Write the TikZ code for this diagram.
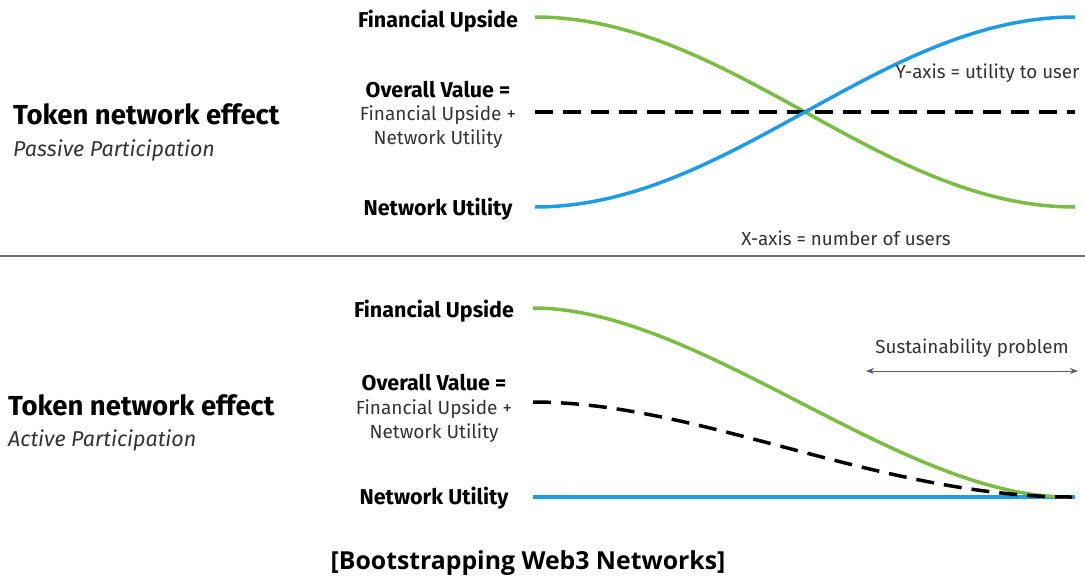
\documentclass[tikz,border=0pt]{standalone}
\usepackage{fontspec}
\setmainfont{Fira Sans}
\newfontfamily\capfont{Open Sans}
\usetikzlibrary{arrows.meta}
\definecolor{finGreen}{RGB}{122,189,66}
\definecolor{netBlue}{RGB}{29,155,230}
\definecolor{arrowGray}{RGB}{80,92,112}
\definecolor{lineGray}{RGB}{110,110,110}

\begin{document}
\begin{tikzpicture}[x=1pt,y=-1pt,
    curve/.style={line width=3.5pt},
    valline/.style={line width=3.5pt,dash pattern=on 18pt off 10pt},
    bigtitle/.style={anchor=west,inner sep=0pt,font=\bfseries\fontsize{27.5}{32}\selectfont},
    subtitle/.style={anchor=west,inner sep=0pt,text=black!80,font=\itshape\fontsize{21.5}{25}\selectfont},
    lbl/.style={font=\bfseries\fontsize{21.5}{25}\selectfont},
    sumlbl/.style={align=center,text=black!80,font=\fontsize{19}{24}\selectfont},
    note/.style={text=black!80,font=\fontsize{18.8}{22}\selectfont}]
    \useasboundingbox (0,0) rectangle (1085,579);

    % passive participation
    \node[bigtitle] (tn1) at (13,114) {Token network effect};
    \node[subtitle] (pp1) at (13,150) {Passive Participation};
    \node[lbl] (fu1) at (438,21) {Financial Upside};
    \node[lbl] (ov1) at (438,90) {Overall Value =};
    \node[sumlbl] (ov1s) at (438,127) {Financial Upside +\\Network Utility};
    \node[lbl] (nu1) at (438,209) {Network Utility};

    \coordinate (g1s) at (535,17);
    \coordinate (g1e) at (1075,207);
    \coordinate (b1s) at (535,207);
    \coordinate (b1e) at (1075,17);
    \coordinate (d1s) at (535,112);
    \coordinate (d1e) at (1075,112);
    \draw[curve,finGreen] (g1s) .. controls (730,17) and (880,207) .. (g1e);
    \draw[valline] (d1s) -- (d1e);
    \draw[curve,netBlue] (b1s) .. controls (730,207) and (880,17) .. (b1e);

    \node[note,anchor=east] (ya) at (1083,73) {Y-axis = utility to user};
    \node[note] (xa) at (846,238) {X-axis = number of users};

    \draw[lineGray,line width=1.2pt] (0,256) -- (1085,256);

    % active participation
    \node[bigtitle] (tn2) at (8,405) {Token network effect};
    \node[subtitle] (ap2) at (8,440) {Active Participation};
    \node[lbl] (fu2) at (434,311) {Financial Upside};
    \node[lbl] (ov2) at (434,383) {Overall Value =};
    \node[sumlbl] (ov2s) at (434,421) {Financial Upside +\\Network Utility};
    \node[lbl] (nu2) at (434,498) {Network Utility};

    \coordinate (g2s) at (533,308);
    \coordinate (g2e) at (1068,497);
    \coordinate (b2s) at (533,497);
    \coordinate (b2e) at (1075,497);
    \coordinate (d2s) at (533,402);
    \coordinate (d2e) at (1072,497);
    \draw[curve,netBlue] (b2s) -- (b2e);
    \draw[curve,finGreen] (g2s) .. controls (700,308) and (900,497) .. (g2e);
    \draw[valline] (d2s) .. controls (700,402) and (880,497) .. (d2e);

    \node[note] (sp) at (972,348) {Sustainability problem};
    \coordinate (spl) at (866,371);
    \coordinate (spr) at (1078,371);
    \draw[arrowGray,line width=1pt,{Stealth[length=8pt,width=6pt]}-{Stealth[length=8pt,width=6pt]}] (spl) -- (spr);

    \node[font=\capfont\bfseries\fontsize{24.8}{30}\selectfont] (cap) at (528,563) {[Bootstrapping Web3 Networks]};
\end{tikzpicture}
\end{document}
